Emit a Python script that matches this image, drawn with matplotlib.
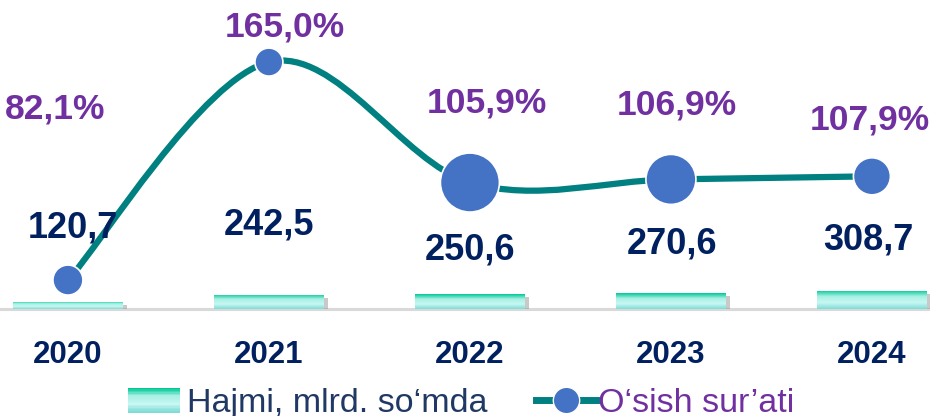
import numpy as np
import matplotlib
matplotlib.use('Agg')
import matplotlib.pyplot as plt
import matplotlib.patheffects as pe
import matplotlib.transforms as mtransforms
from matplotlib.path import Path
from matplotlib.patches import PathPatch, Rectangle
from matplotlib.lines import Line2D
from matplotlib.legend_handler import HandlerBase
from matplotlib.colors import LinearSegmentedColormap

# data
years = ['2020', '2021', '2022', '2023', '2024']
volume = [120.7, 242.5, 250.6, 270.6, 308.7]   # Hajmi, mlrd. so'mda
growth = [82.1, 165.0, 105.9, 106.9, 107.9]    # O'sish sur'ati, %
volume_name = 'Hajmi, mlrd. so\u2018mda'
growth_name = 'O\u2018sish sur\u2019ati'

# styling
navy = '#002060'
purple = '#7030A0'
teal = '#008080'
dot_blue = '#4472C4'
marker_px = [30, 28, 59, 50, 37]
growth_lbl_dx = [-13, 16, 17, 6, -2]              # px offset from category centre
growth_lbl_y = [0.646, 0.912, 0.667, 0.660, 0.612]  # axes fraction
volume_lbl_dx = [5, 0, 0, 1, -4]
volume_lbl_y = [0.262, 0.272, 0.191, 0.210, 0.223]

plt.rcParams['font.family'] = ['Liberation Sans', 'DejaVu Sans']

bar_cmap = LinearSegmentedColormap.from_list(
    'bar', ['#7FDCD6', '#C8F7F3', '#A8F0E4', '#00C896'])

fig = plt.figure(figsize=(9.3, 4.16), dpi=100)
ax = fig.add_axes([0, 0.257, 1, 0.743])
x = np.arange(len(years))

bars = ax.bar(x, volume, width=0.547, color='#7FE3D0', zorder=2,
              path_effects=[pe.SimplePatchShadow(offset=(3, -2), shadow_rgbFace='#888888', alpha=0.45),
                            pe.Normal()])
grad = np.linspace(0, 1, 64).reshape(-1, 1)
for b in bars:
    x0, y0 = b.get_x(), b.get_y()
    im = ax.imshow(grad, extent=[x0, x0 + b.get_width(), y0, y0 + b.get_height()],
                   origin='lower', cmap=bar_cmap, aspect='auto', zorder=3)
    im.set_clip_path(b)

ax.set_xlim(-0.338, 4.289)
ax.set_ylim(0, 5300)
ax.axhline(0, color='#D9D9D9', lw=2.2, clip_on=False, zorder=1)
for s in ax.spines.values():
    s.set_visible(False)
ax.set_yticks([])
ax.set_xticks(x, years)
ax.tick_params(axis='x', length=0, pad=22, labelsize=22.5, labelcolor=navy)
for t in ax.get_xticklabels():
    t.set_fontweight('bold')

# growth line on a secondary axis
ax2 = ax.twinx()
with np.errstate(divide='ignore', invalid='ignore'):
    ax2.set_yscale('function', functions=(lambda v: -1.0 / v, lambda u: -1.0 / u))
ax2.set_ylim(76.95, 231.6)
ax2.set_xlim(ax.get_xlim())
ax2.set_axis_off()

# smooth curve (Catmull-Rom in display space)
pts = np.column_stack([x.astype(float), -1.0 / np.array(growth)])
padded = np.vstack([pts[0], pts, pts[-1]])
verts = [pts[0]]
codes = [Path.MOVETO]
for i in range(len(pts) - 1):
    p0, p1, p2, p3 = padded[i], padded[i + 1], padded[i + 2], padded[i + 3]
    verts += [p1 + (p2 - p0) / 6, p2 - (p3 - p1) / 6, p2]
    codes += [Path.CURVE4] * 3
verts = np.array(verts)
verts[:, 1] = -1.0 / verts[:, 1]
ax2.add_patch(PathPatch(Path(verts, codes), facecolor='none', edgecolor=teal,
                        lw=4.5, capstyle='round', zorder=4))
ax2.set_ylim(76.95, 231.6)

ax2.scatter(x, growth, s=(np.array(marker_px) * 0.72) ** 2, color=dot_blue,
            edgecolor='white', linewidth=1.2, zorder=5)

blend = mtransforms.blended_transform_factory(ax2.transData, ax2.transAxes)
for i, v in enumerate(growth):
    ax2.annotate(f'{v:.1f}%'.replace('.', ','), xy=(i, growth_lbl_y[i]), xycoords=blend,
                 xytext=(growth_lbl_dx[i] * 0.72, 0), textcoords='offset points',
                 ha='center', va='center', fontsize=25.5, fontweight='bold', color=purple, zorder=10)
for i, v in enumerate(volume):
    ax2.annotate(f'{v:.1f}'.replace('.', ','), xy=(i, volume_lbl_y[i]), xycoords=blend,
                 xytext=(volume_lbl_dx[i] * 0.72, 0), textcoords='offset points',
                 ha='center', va='center', fontsize=26, fontweight='bold', color=navy, zorder=10)


class GradientHandler(HandlerBase):
    def create_artists(self, legend, orig_handle, xdescent, ydescent, width, height, fontsize, trans):
        n = 16
        w = width * 52 / 60
        x0 = -xdescent + width * 3 / 60
        h = height * 1.05
        y0 = -ydescent + (height - h) / 2
        arts = []
        for k in range(n):
            r = Rectangle((x0, y0 + k * h / n), w, h / n + 0.05,
                          facecolor=bar_cmap(k / (n - 1)), edgecolor='none', transform=trans)
            arts.append(r)
        return arts


bar_handle = Rectangle((0, 0), 1, 1)
line_handle = Line2D([], [], color=teal, lw=5, marker='o', markersize=19,
                     markerfacecolor=dot_blue, markeredgecolor='white')
leg = fig.legend([bar_handle, line_handle], [volume_name, growth_name],
                 handler_map={Rectangle: GradientHandler()},
                 loc='center left', bbox_to_anchor=(0.1344, 0.03), ncol=2, frameon=False,
                 fontsize=24.5, handlelength=1.76, handletextpad=0.06, columnspacing=1.44,
                 borderpad=0, borderaxespad=0)
leg.get_texts()[0].set_color('#1F3864')
leg.get_texts()[1].set_color(purple)

fig.savefig('out.png', dpi=100)
